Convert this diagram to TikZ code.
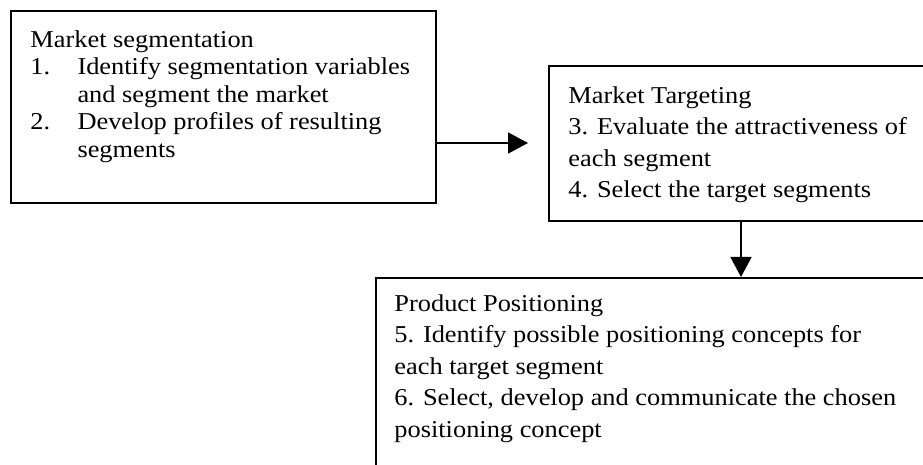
\documentclass[tikz,border=0pt]{standalone}
\usepackage{fontspec}
\setmainfont{Liberation Serif}
\usetikzlibrary{arrows.meta,calc}
\newcommand{\numitem}[1]{\makebox[21.6pt][l]{#1}}

\begin{document}
\begin{tikzpicture}[x=0.5pt,y=-0.5pt,
    box/.style={draw,line width=1pt,inner sep=0pt,anchor=north west},
    txt/.style={align=left,inner sep=0pt,anchor=north west,xscale=1.09},
    arr/.style={line width=0.8pt,-{Triangle[length=10pt,width=10.5pt]}}]
  \useasboundingbox (0,0) rectangle (923,465);
  \clip (0,0) rectangle (923,465);

  % the three boxes (the right ones run off the page)
  \node[box,minimum width=212.5pt,minimum height=96pt] (seg) at (10,10) {};
  \node[box,minimum width=200pt,minimum height=77.5pt] (tgt) at (548,65) {};
  \node[box,minimum width=300pt,minimum height=125pt] (pos) at (375,277) {};

  \node[txt,font={\fontsize{12.1pt}{13.8pt}\selectfont\lineskiplimit=-20pt}] (segtxt) at (30,30)
    {Market segmentation\\
     \numitem{1.}Identify segmentation variables\\
     \numitem{}and segment the market\\
     \numitem{2.}Develop profiles of resulting\\
     \numitem{}segments};
  \node[txt,font={\fontsize{12.1pt}{15.8pt}\selectfont\lineskiplimit=-20pt}] (tgttxt) at (568,86)
    {Market Targeting\\
     3. Evaluate the attractiveness of\\
     each segment\\
     4. Select the target segments};
  \node[txt,font={\fontsize{12.1pt}{15.8pt}\selectfont\lineskiplimit=-20pt}] (postxt) at (394,294)
    {Product Positioning\\
     5. Identify possible positioning concepts for\\
     each target segment\\
     6. Select, develop and communicate the chosen\\
     positioning concept};

  % connectors
  \coordinate (hend) at (528,143);
  \coordinate (vx) at (741,0);
  \draw[arr] (seg.east |- hend) -- (hend);
  \draw[arr] (tgt.south -| vx) -- (pos.north -| vx);
\end{tikzpicture}
\end{document}
